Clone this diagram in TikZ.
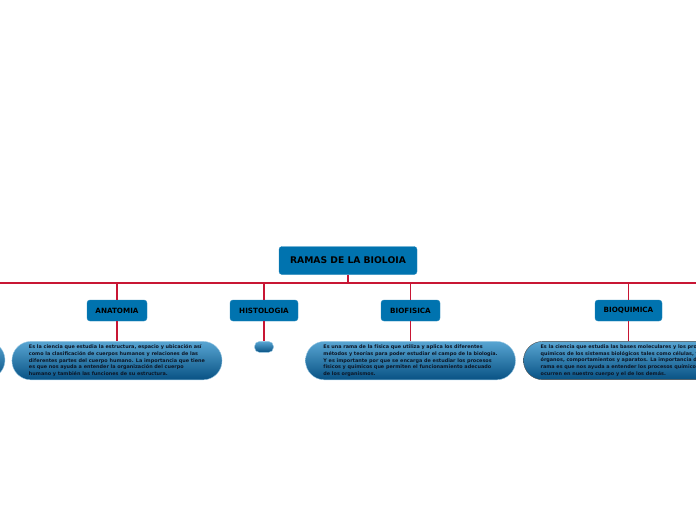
\documentclass[tikz,border=0pt]{standalone}
\usepackage{fontspec}
\setmainfont{DejaVu Sans}
\usetikzlibrary{positioning}
\definecolor{mapblue}{RGB}{0,115,175}
\definecolor{mapline}{RGB}{200,22,52}
\definecolor{pilltop}{RGB}{88,165,210}
\definecolor{pillbot}{RGB}{8,82,132}
\definecolor{maptext}{RGB}{12,22,38}

\begin{document}
\begin{tikzpicture}[x=1pt, y=-1pt,
        topic/.style={rectangle, draw=mapblue!85!white, fill=mapblue, rounded corners=3pt, minimum height=21pt, inner xsep=3pt, font=\bfseries\fontsize{7.2}{8}\selectfont, text=black},
        main/.style={topic, minimum width=138pt, minimum height=28pt, font=\bfseries\fontsize{9.2}{10}\selectfont},
        pill/.style={rectangle, rounded corners=19pt, draw=pilltop!60!white, top color=pilltop, bottom color=pillbot, minimum width=210pt, minimum height=38pt, inner xsep=17pt, align=left, text=maptext, font=\bfseries\fontsize{4.9}{6.7}\selectfont},
        link/.style={draw=mapline, line width=1.6pt}
    ]
        \useasboundingbox (0,0) rectangle (696,520);
        \clip (0,0) rectangle (696,520);

        % Central topic and the bus line
        \node[main] (root) at (348,260.5) {RAMAS DE LA BIOLOIA};
        \coordinate (busL) at (-10,283);
        \coordinate (busR) at (706,283);

        % Branches
        \node[topic, minimum width=60pt] (anatomia) at (117,310.5) {ANATOMIA};
        \node[topic, minimum width=68pt] (histologia) at (264,310.5) {HISTOLOGIA};
        \node[topic, minimum width=59pt] (biofisica) at (410.5,310.5) {BIOFISICA};
        \node[topic, minimum width=67pt] (bioquimica) at (628.5,310.5) {BIOQUIMICA};

        % Descriptions
        \node[pill] (otrodesc) at (-100,360) {};
        \node[pill, below=20pt of anatomia] (anatomiadesc) {Es la ciencia que estudia la estructura, espacio y ubicación así\\como la clasificación de cuerpos humanos y relaciones de las\\diferentes partes del cuerpo humano. La importancia que tiene\\es que nos ayuda a entender la organización del cuerpo\\humano y también las funciones de su estructura.};
        \node[pill, rounded corners=5pt, minimum width=19pt, minimum height=11pt, inner sep=0pt, below=20pt of histologia] (histologiadesc) {};
        \node[pill, below=20pt of biofisica] (biofisicadesc) {Es una rama de la física que utiliza y aplica los diferentes\\métodos y teorías para poder estudiar el campo de la biología.\\Y es importante por que se encarga de estudiar los procesos\\físicos y químicos que permiten el funcionamiento adecuado\\de los organismos.};
        \node[pill, draw=black!70, below=20pt of bioquimica] (bioquimicadesc) {Es la ciencia que estudia las bases moleculares y los procesos\\químicos de los sistemas biológicos tales como células, tejidos,\\órganos, comportamientos y aparatos. La importancia de esta\\rama es que nos ayuda a entender los procesos químicos que\\ocurren en nuestro cuerpo y el de los demás.};

        % Connectors
        \draw[link] (busL) -- (busR);
        \draw[link] (root) -- (root |- busL);
        \foreach \n in {anatomia, histologia, biofisica, bioquimica} {
            \draw[link, line width=1.2pt] (\n |- busL) -- (\n);
            \draw[link, line width=1.2pt] (\n) -- (\n desc);
        }
    \end{tikzpicture}
\end{document}
